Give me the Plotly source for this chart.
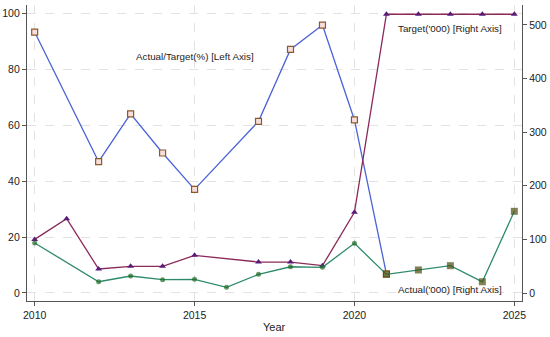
import plotly.graph_objects as go

years = list(range(2010, 2026))
pct = [93.2, None, 46.9, 64.0, 50.0, 37.0, None, 61.3, 87.0, 95.7, 61.8, 6.8, None, None, None, None]
target = [100, 138.6, 44.8, 49.8, 49.8, 70.3, None, 57.8, 57.8, 51.0, 150.5, 520, 520, 520, 520, 520]
actual = [93.3, None, 21.0, 31.7, 24.8, 25.5, 10.6, 34.8, 49.0, 48.0, 92.7, 34.8, 43.0, 51.0, 21.0, 152.4]

x_ticks = [2010, 2015, 2020, 2025]
left_ticks = [0, 20, 40, 60, 80, 100]
right_ticks = [0, 100, 200, 300, 400, 500]

font = "Liberation Sans, Arial, sans-serif"

fig = go.Figure()

fig.add_trace(go.Scatter(
    x=years, y=pct, mode="lines+markers", connectgaps=True,
    line=dict(color="#4a62d8", width=1.3),
    marker=dict(symbol="square", size=6, color="#f6dede",
                line=dict(color="#8b5a2b", width=1.2)),
    yaxis="y", showlegend=False))

fig.add_trace(go.Scatter(
    x=years, y=target, mode="lines+markers", connectgaps=True,
    line=dict(color="#8b2a5a", width=1.3),
    marker=dict(symbol="triangle-up", size=6, color="#5a1a78"),
    yaxis="y2", showlegend=False))

sym = ["circle"] * 11 + ["square"] * 5
sizes = [5] * 11 + [7] * 5
cols = ["#1f6b25"] * 11 + ["#4a4c0c"] * 5
fig.add_trace(go.Scatter(
    x=years, y=actual, mode="lines+markers", connectgaps=True,
    line=dict(color="#2e8b6a", width=1.3),
    marker=dict(symbol=sym, size=sizes, color=cols, line=dict(width=0)),
    yaxis="y2", showlegend=False))

ann_font = dict(family=font, size=9.8, color="#222222")
axis_common = dict(showline=True, linecolor="#555555", linewidth=1.2,
                   ticks="outside", ticklen=4, tickcolor="#555555",
                   zeroline=False, automargin=False,
                   tickfont=dict(size=10.5))
fig.update_layout(
    width=550, height=337,
    margin=dict(l=27, r=28, t=5, b=36),
    paper_bgcolor="white", plot_bgcolor="white",
    font=dict(family=font, size=10.5, color="#222222"),
    xaxis=dict(range=[2009.76, 2025.24], tickvals=x_ticks,
               showgrid=True, gridcolor="#e2e2e2", griddash="dash", gridwidth=1,
               **axis_common),
    yaxis=dict(range=[-2.86, 102.86], tickvals=left_ticks,
               showgrid=True, gridcolor="#e2e2e2", griddash="dash", gridwidth=1,
               **axis_common),
    yaxis2=dict(range=[-14.9, 537.3], tickvals=right_ticks, overlaying="y",
                side="right", showgrid=False, **axis_common),
    annotations=[
        dict(x=2015, y=84.6, xref="x", yref="y", text="Actual/Target(%) [Left Axis]",
             showarrow=False, font=ann_font),
        dict(x=2023, y=94.6, xref="x", yref="y", text="Target('000) [Right Axis]",
             showarrow=False, font=ann_font),
        dict(x=2023, y=1.1, xref="x", yref="y", text="Actual('000) [Right Axis]",
             showarrow=False, font=ann_font),
        dict(x=0.499, y=-0.088, xref="paper", yref="paper", text="Year",
             showarrow=False, yanchor="middle", font=dict(family=font, size=11, color="#222222")),
    ],
)

fig.write_html("out.html", config={"displayModeBar": False},
               post_script="document.body.style.margin='0';document.body.style.padding='0';")
